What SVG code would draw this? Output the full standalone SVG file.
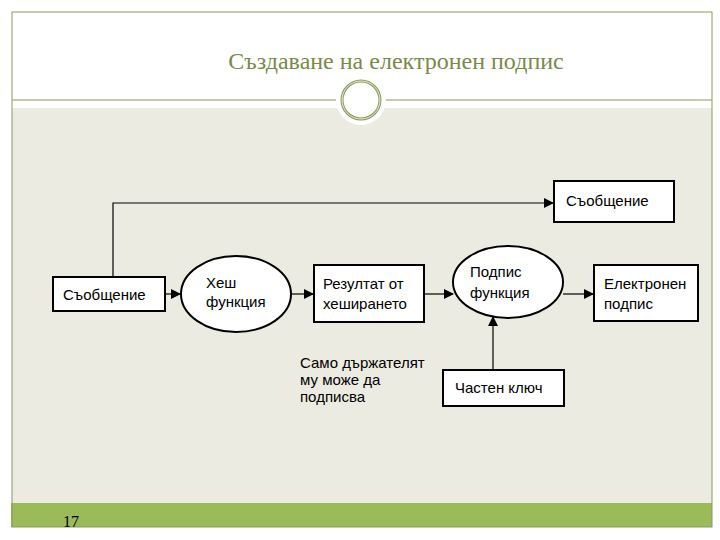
<svg xmlns="http://www.w3.org/2000/svg" width="720" height="540" viewBox="0 0 720 540">
<style>
.b{fill:#fff;stroke:#000;stroke-width:2}
.t{font-family:"Liberation Sans",Arial,sans-serif;font-size:15px;fill:#000}
.c{stroke:#000;stroke-width:1.2;fill:none;marker-end:url(#a)}
</style>
<defs><marker id="a" markerWidth="10" markerHeight="10" refX="9" refY="5" orient="auto" markerUnits="userSpaceOnUse"><path d="M0,0L10,5L0,10z" fill="#000"/></marker></defs>
<rect x="0" y="0" width="720" height="540" fill="#fff"/>
<rect x="12" y="108" width="700" height="396" fill="#ecebe1"/>
<rect x="11" y="503" width="701" height="24" fill="#9bbb59"/>
<rect x="12" y="12" width="700" height="515" fill="none" stroke="#8a9a5b" stroke-width="1"/>
<line x1="12" y1="100" x2="338" y2="100" stroke="#8a9a5b"/>
<line x1="384" y1="100" x2="712" y2="100" stroke="#8a9a5b"/>
<circle cx="361" cy="100" r="25" fill="#fff"/>
<circle cx="361" cy="100" r="19" fill="none" stroke="#8a9a5b" stroke-width="3"/>
<circle cx="361" cy="100" r="19" fill="none" stroke="#fff" stroke-width="0.8"/>
<text x="396" y="69" text-anchor="middle" font-family="Liberation Serif,serif" font-size="24" fill="#7a8a4a">Създаване на електронен подпис</text>
<text x="63" y="527" font-family="Liberation Serif,serif" font-size="16" fill="#000">17</text>
<g id="connectors">
<path class="c" d="M113,277V203H553"/>
<path class="c" d="M165,294H180"/>
<path class="c" d="M291,294H313"/>
<path class="c" d="M424,294H453"/>
<path class="c" d="M563,294H593"/>
<path class="c" d="M493,370V317"/>
</g>
<g id="msg2"><rect class="b" x="554" y="181" width="120" height="41"/><text class="t" x="566" y="206">Съобщение</text></g>
<g id="msg1"><rect class="b" x="53" y="277" width="112" height="34"/><text class="t" x="63" y="300">Съобщение</text></g>
<g id="hash"><ellipse class="b" cx="236" cy="294" rx="55" ry="38"/><text class="t" x="206" y="288">Хеш</text><text class="t" x="206" y="307">функция</text></g>
<g id="result"><rect class="b" x="314" y="265" width="110" height="57"/><text class="t" x="323" y="289">Резултат от</text><text class="t" x="323" y="309">хеширането</text></g>
<g id="sign"><ellipse class="b" cx="508" cy="282" rx="55" ry="36"/><text class="t" x="470" y="277">Подпис</text><text class="t" x="470" y="298">функция</text></g>
<g id="esig"><rect class="b" x="594" y="265" width="104" height="56"/><text class="t" x="604" y="289">Електронен</text><text class="t" x="604" y="309">подпис</text></g>
<g id="key"><rect class="b" x="443" y="370" width="121" height="36"/><text class="t" x="455" y="393">Частен ключ</text></g>
<g id="note"><text class="t" font-size="12" x="300" y="368">Само държателят</text><text class="t" font-size="12" x="300" y="385">му може да</text><text class="t" font-size="12" x="300" y="402">подписва</text></g>
</svg>
